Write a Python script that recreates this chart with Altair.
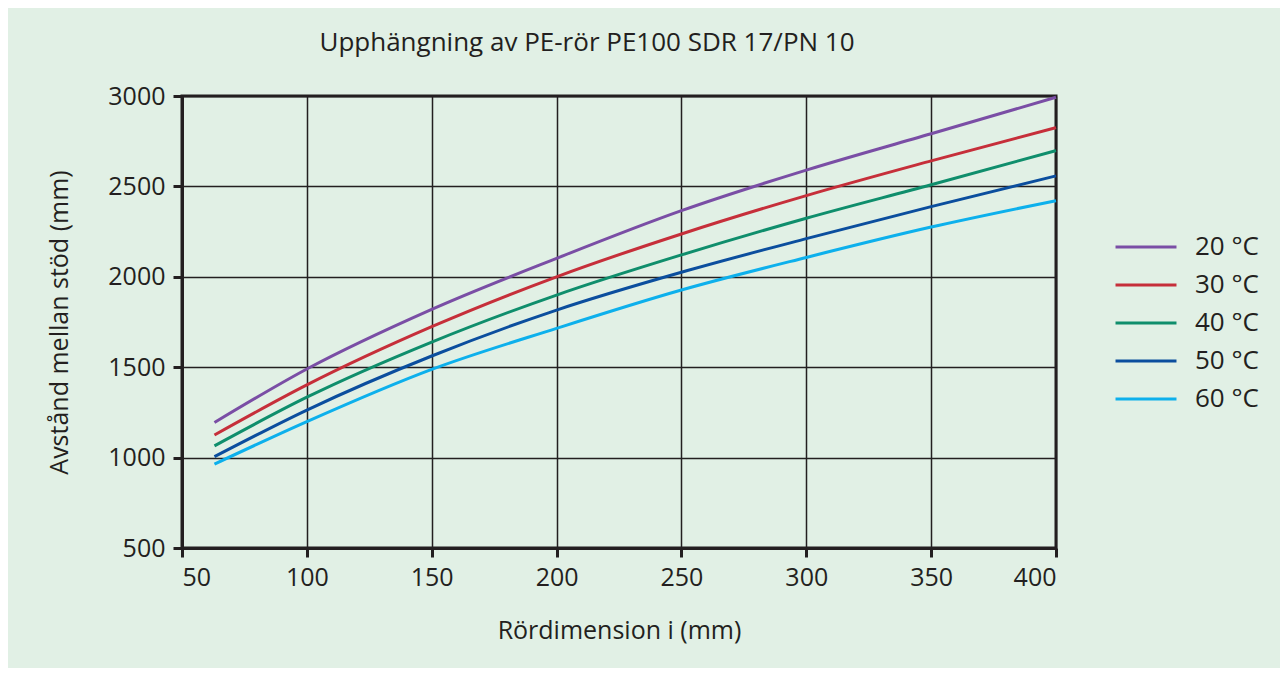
import altair as alt
import pandas as pd

# Data
dims = [63, 100, 150, 200, 250, 300, 350, 400]
series_names = ["20 °C", "30 °C", "40 °C", "50 °C", "60 °C"]
v20 = [1194, 1490, 1820, 2102, 2366, 2590, 2791, 2993]
v30 = [1125, 1402, 1724, 2000, 2237, 2449, 2641, 2825]
v40 = [1065, 1334, 1639, 1899, 2121, 2324, 2509, 2698]
v50 = [1005, 1263, 1562, 1816, 2025, 2211, 2388, 2558]
v60 = [964, 1199, 1488, 1715, 1927, 2107, 2275, 2421]
colors = ["#7a4ea5", "#c62f3a", "#0f8e6c", "#0b4e9e", "#0db0ec"]
x_ticks = [50, 100, 150, 200, 250, 300, 350, 400]
y_ticks = [500, 1000, 1500, 2000, 2500, 3000]

rows = []
for name, vals in zip(series_names, [v20, v30, v40, v50, v60]):
    for d, v in zip(dims, vals):
        rows.append({"dim": d, "val": v, "temp": name})
df = pd.DataFrame(rows)

FONT = "Open Sans"
TXT = "#231f20"

chart = alt.Chart(df).mark_line(strokeWidth=3, interpolate="monotone").encode(
    x=alt.X("dim:Q", title="Rördimension i (mm)",
            scale=alt.Scale(domain=[50, 400], nice=False, zero=False),
            axis=alt.Axis(values=x_ticks, format="d", titlePadding=28)),
    y=alt.Y("val:Q", title="Avstånd mellan stöd (mm)",
            scale=alt.Scale(domain=[500, 3000], nice=False, zero=False),
            axis=alt.Axis(values=y_ticks, format="d", titlePadding=35)),
    color=alt.Color("temp:N", title=None,
                    scale=alt.Scale(domain=series_names, range=colors),
                    legend=alt.Legend(orient="none", legendX=951, legendY=138,
                                      symbolType="M-3,0L3,0", symbolSize=413,
                                      symbolStrokeWidth=3, labelOffset=36,
                                      rowPadding=12, padding=0,
                                      labelFontSize=26, labelFont=FONT,
                                      labelColor=TXT)),
).properties(
    width=874, height=452,
    title=alt.TitleParams("Upphängning av PE-rör PE100 SDR 17/PN 10",
                          fontSize=26, font=FONT, fontWeight="normal",
                          color=TXT, anchor="middle", dx=-32, offset=28),
    background="#e1f0e5",
    padding={"left": 174, "top": 88, "right": 224, "bottom": 120},
    autosize=alt.AutoSizeParams(type="none"),
).configure_view(
    stroke="#231f20", strokeWidth=3, fill="#e1f0e5"
).configure_axis(
    grid=True, gridColor="#231f20", gridWidth=1.5, gridOpacity=1,
    domainColor="#231f20", domainWidth=3,
    tickColor="#231f20", tickWidth=3, tickSize=9,
    labelFont=FONT, labelFontSize=25, labelColor=TXT, labelPadding=8,
    titleFont=FONT, titleFontSize=25, titleFontWeight="normal", titleColor=TXT,
)

chart.save("out.html", embed_options={"renderer": "svg", "actions": False})
